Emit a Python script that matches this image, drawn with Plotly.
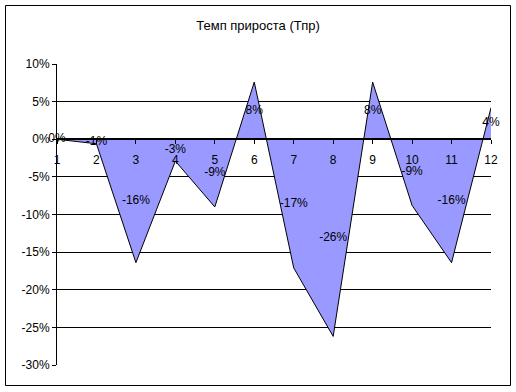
import plotly.graph_objects as go

categories = [1, 2, 3, 4, 5, 6, 7, 8, 9, 10, 11, 12]
growth_pct = [0.0, -0.6, -16.4, -2.9, -9.0, 7.6, -17.1, -26.2, 7.6, -8.8, -16.4, 4.2]
y_ticks = [10, 5, 0, -5, -10, -15, -20, -25, -30]
title_text = "Темп прироста (Тпр)"

labels = [f"{round(v):.0f}%" for v in growth_pct]
label_y = [v / 2 for v in growth_pct]

FONT = "Liberation Sans, Arial, sans-serif"

fig = go.Figure()
fig.add_trace(go.Scatter(
    x=categories, y=growth_pct, mode="lines", fill="tozeroy",
    fillcolor="#9999FF", line=dict(color="black", width=1),
    hoverinfo="skip", showlegend=False,
))
fig.add_trace(go.Scatter(
    x=categories, y=label_y, mode="text", text=labels,
    textposition="middle center",
    textfont=dict(family=FONT, size=12, color="black"),
    showlegend=False, cliponaxis=False, hoverinfo="skip",
))

L, R, T, B = 57, 25, 64, 27
W, H = 516, 392

fig.update_layout(
    width=W, height=H,
    margin=dict(l=L, r=R, t=T, b=B),
    paper_bgcolor="white", plot_bgcolor="white",
    font=dict(family=FONT, size=12, color="black"),
    title=dict(text=title_text, x=0.5, xanchor="center",
               y=1 - 25 / H, yanchor="middle",
               font=dict(family=FONT, size=13, color="black")),
    xaxis=dict(
        range=[1, 12], tickmode="array", tickvals=categories,
        ticktext=[str(c) for c in categories],
        anchor="free", position=0.75,
        showline=True, linecolor="black", linewidth=2,
        ticks="outside", ticklen=4, tickcolor="black",
        ticklabelstandoff=5,
        showgrid=False, zeroline=False,
        tickfont=dict(family=FONT, size=12, color="black"),
    ),
    yaxis=dict(
        range=[-30, 10], tickmode="array", tickvals=y_ticks,
        ticktext=[f"{t}%" for t in y_ticks],
        showline=True, linecolor="black", linewidth=1,
        ticks="outside", ticklen=4, tickcolor="black",
        showgrid=True, gridcolor="black", gridwidth=1,
        zeroline=False,
        tickfont=dict(family=FONT, size=12, color="black"),
    ),
)

pw, ph = W - L - R, H - T - B
fig.add_shape(
    type="rect", xref="paper", yref="paper",
    x0=(5.5 - L) / pw, x1=(510.5 - L) / pw,
    y0=(H - B - 385.5) / ph, y1=(H - B - 5.5) / ph,
    line=dict(color="black", width=1), fillcolor="rgba(0,0,0,0)",
    layer="above",
)

fig.write_html(
    "out.html",
    config={"displayModeBar": False},
    post_script="document.body.style.margin='0';document.body.style.overflow='hidden';",
)
